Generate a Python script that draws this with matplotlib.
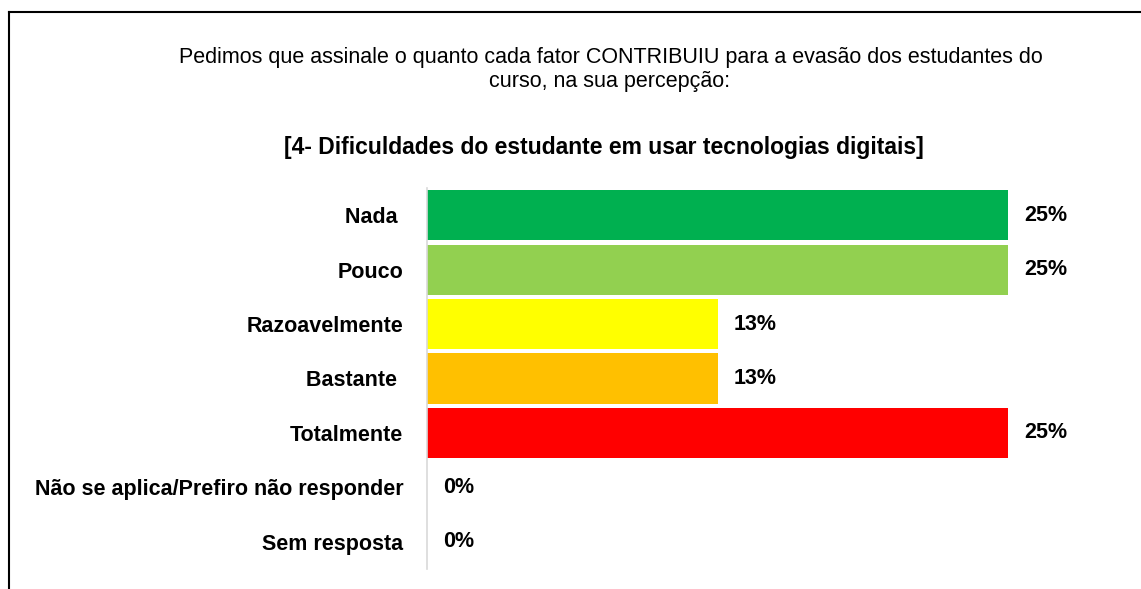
import matplotlib
matplotlib.use("Agg")
import matplotlib.pyplot as plt
from matplotlib.lines import Line2D

# data
categories = ["Nada ", "Pouco", "Razoavelmente", "Bastante ", "Totalmente",
              "Não se aplica/Prefiro não responder", "Sem resposta"]
values = [25, 25, 12.5, 12.5, 25, 0, 0]
value_labels = ["25%", "25%", "13%", "13%", "25%", "0%", "0%"]
colors = ["#00B050", "#92D050", "#FFFF00", "#FFC000", "#FF0000", "#A5A5A5", "#A5A5A5"]

title_1 = "Pedimos que assinale o quanto cada fator CONTRIBUIU para a evasão dos estudantes do"
title_2 = "curso, na sua percepção:"
subtitle = "[4- Dificuldades do estudante em usar tecnologias digitais]"

plt.rcParams["font.family"] = ["Liberation Sans", "DejaVu Sans"]

W, H = 1141, 589
fig = plt.figure(figsize=(W / 100, H / 100), dpi=100)

ax_left, ax_right = 427, 1120
ax_top, ax_bot = 188, 569
ax = fig.add_axes([ax_left / W, 1 - ax_bot / H, (ax_right - ax_left) / W, (ax_bot - ax_top) / H])

px_per_pct = 581 / 25
ax.set_xlim(0, (ax_right - ax_left) / px_per_pct)
ypos = list(range(len(categories)))
ax.barh(ypos, values, height=0.92, color=colors)
ax.set_ylim(len(categories) - 0.5, -0.5)

for y, v, lab in zip(ypos, values, value_labels):
    ax.text(v + 0.68, y, lab, va="center", ha="left", fontsize=15.5, fontweight="bold")

ax.set_yticks(ypos)
ax.set_yticklabels(categories, fontsize=15.5, fontweight="bold")
ax.tick_params(axis="y", length=0, pad=17)
ax.set_xticks([])
for s in ["top", "right", "bottom"]:
    ax.spines[s].set_visible(False)
ax.spines["left"].set_color("#D9D9D9")
ax.spines["left"].set_linewidth(1.2)

fig.text(611 / W, 1 - 57 / H, title_1, ha="center", va="center", fontsize=15.5)
fig.text(610 / W, 1 - 82 / H, title_2, ha="center", va="center", fontsize=15.5)
fig.text(604 / W, 1 - 148 / H, subtitle, ha="center", va="center", fontsize=16.5,
         fontweight="bold")

# outer frame (top and left edges)
fig.add_artist(Line2D([9 / W, 1], [1 - 12 / H, 1 - 12 / H], color="black", lw=1.5))
fig.add_artist(Line2D([9 / W, 9 / W], [0, 1 - 12 / H], color="black", lw=1.5))

fig.savefig("out.png", dpi=100)
